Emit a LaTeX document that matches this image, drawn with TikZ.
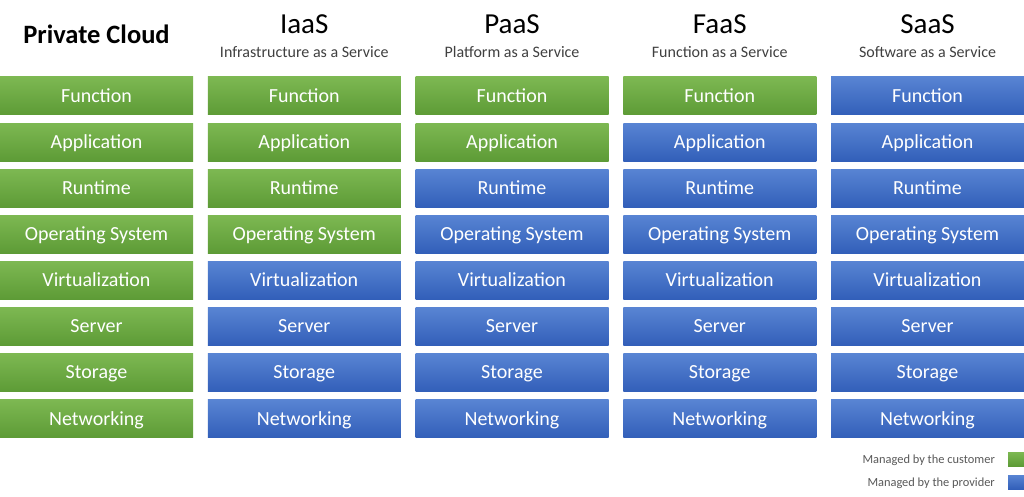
\documentclass[tikz,border=0pt]{standalone}
\usepackage{fontspec}
\setmainfont{Carlito}
\usetikzlibrary{positioning}

\definecolor{grnTop}{HTML}{7DB852}
\definecolor{grnBot}{HTML}{5D9B36}
\definecolor{bluTop}{HTML}{5884D3}
\definecolor{bluBot}{HTML}{325FB9}
\definecolor{subgrey}{HTML}{404040}
\definecolor{leggrey}{HTML}{595959}

\tikzset{
  layer/.style={minimum width=193pt, minimum height=38pt, inner sep=0pt,
    text height=12.7pt, text depth=0pt, text=white,
    font=\fontsize{20}{24}\selectfont},
  cust/.style={layer, top color=grnTop, bottom color=grnBot},
  prov/.style={layer, top color=bluTop, bottom color=bluBot},
  title/.style={anchor=base, text=black, inner sep=0pt, font=\fontsize{29}{34}\selectfont},
  subtitle/.style={anchor=base, text=subgrey, inner sep=0pt, font=\fontsize{16}{19}\selectfont},
  legtext/.style={anchor=base east, text=leggrey, inner sep=0pt, font=\fontsize{12.4}{15}\selectfont},
  legbox/.style={minimum width=16pt, minimum height=14pt, inner sep=0pt},
}

\begin{document}
\begin{tikzpicture}[x=1pt, y=-1pt]
  \useasboundingbox[fill=white] (0,0) rectangle (1024,497);

  % column headings
  \node[anchor=base, inner sep=0pt, font=\fontsize{26.5}{31}\selectfont\bfseries] (h1) at (96.5,44) {Private Cloud};
  \foreach \c/\t/\s in {2/IaaS/Infrastructure as a Service,
                        3/PaaS/Platform as a Service,
                        4/FaaS/Function as a Service,
                        5/SaaS/Software as a Service}{
    \pgfmathsetmacro{\cx}{96.5+207.75*(\c-1)}
    \node[title] (h\c) at (\cx,34) {\t};
    \node[subtitle] (s\c) at (\cx,58) {\s};
  }

  % stack of layers; the number says how many layers (from the top) stay with the provider
  \foreach \c/\p in {1/0, 2/4, 3/2, 4/1, 5/0}{
    \foreach \r/\lbl in {1/Function, 2/Application, 3/Runtime, 4/Operating System,
                         5/Virtualization, 6/Server, 7/Storage, 8/Networking}{
      \pgfmathsetmacro{\cx}{96.5+207.75*(\c-1)}
      \pgfmathsetmacro{\cy}{96+46.1*(\r-1)}
      \pgfmathtruncatemacro{\green}{(\c==1) || ((\c==2) && (\r<5)) || ((\c==3) && (\r<3)) || ((\c==4) && (\r<2)) ? 1 : 0}
      \ifnum\green=1
        \node[cust] (c\c r\r) at (\cx,\cy) {\lbl};
      \else
        \node[prov] (c\c r\r) at (\cx,\cy) {\lbl};
      \fi
    }
  }

  % legend
  \node[legbox, top color=grnTop, bottom color=grnBot] (lg) at (1016,459) {};
  \node[legbox, top color=bluTop, bottom color=bluBot] (lb) at (1016,482) {};
  \node[legtext] (lgt) at (995,463) {Managed by the customer};
  \node[legtext] (lbt) at (995,486) {Managed by the provider};
\end{tikzpicture}
\end{document}
